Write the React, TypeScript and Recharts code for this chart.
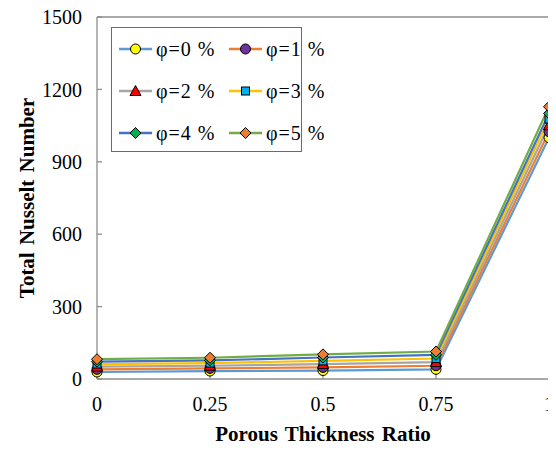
import { LineChart, Line, XAxis, YAxis, ReferenceLine } from 'recharts';

const ratios = [0, 0.25, 0.5, 0.75, 1];
const phi0 = [29, 33, 35, 40, 1000];
const phi1 = [40, 44, 48, 55, 1025];
const phi2 = [51, 55, 62, 70, 1052];
const phi3 = [62, 66, 75, 85, 1077];
const phi4 = [72, 77, 89, 100, 1100];
const phi5 = [82, 88, 102, 114, 1128];
const yTicks = [0, 300, 600, 900, 1200, 1500];
const xTicks = [0, 0.25, 0.5, 0.75, 1];

const FONT = '"Liberation Serif", "Times New Roman", serif';
const AXIS = '#8c8c8c';
const titleStyle = { fill: '#000', fontSize: 21, fontWeight: 'bold', fontFamily: FONT, wordSpacing: 2 };

type Shape = 'circle' | 'triangle' | 'square' | 'diamond';

const series: { key: string; label: string; values: number[]; line: string; fill: string; shape: Shape }[] = [
  { key: 'p0', label: 'φ=0 %', values: phi0, line: '#5B9BD5', fill: '#FFFF00', shape: 'circle' },
  { key: 'p1', label: 'φ=1 %', values: phi1, line: '#ED7D31', fill: '#7030A0', shape: 'circle' },
  { key: 'p2', label: 'φ=2 %', values: phi2, line: '#A5A5A5', fill: '#FF0000', shape: 'triangle' },
  { key: 'p3', label: 'φ=3 %', values: phi3, line: '#FFC000', fill: '#00B0F0', shape: 'square' },
  { key: 'p4', label: 'φ=4 %', values: phi4, line: '#4472C4', fill: '#00B050', shape: 'diamond' },
  { key: 'p5', label: 'φ=5 %', values: phi5, line: '#70AD47', fill: '#ED7D31', shape: 'diamond' },
];

const data = ratios.map((r, i) => {
  const row: Record<string, number> = { ratio: r };
  series.forEach((s) => {
    row[s.key] = s.values[i];
  });
  return row;
});

function Marker({ cx, cy, shape, fill }: { cx: number; cy: number; shape: Shape; fill: string }) {
  const common = { fill, stroke: '#000', strokeWidth: 1 };
  if (shape === 'circle') return <circle cx={cx} cy={cy} r={5} {...common} />;
  if (shape === 'square') return <rect x={cx - 4} y={cy - 4} width={8} height={8} {...common} />;
  if (shape === 'triangle')
    return <polygon points={`${cx},${cy - 5.5} ${cx + 5.5},${cy + 4.5} ${cx - 5.5},${cy + 4.5}`} {...common} />;
  return <polygon points={`${cx},${cy - 5.5} ${cx + 5.5},${cy} ${cx},${cy + 5.5} ${cx - 5.5},${cy}`} {...common} />;
}

// legend drawn as an overlay so the plot keeps its full height
function LegendBox() {
  return (
    <div
      style={{
        position: 'absolute',
        left: 111,
        top: 27,
        width: 191,
        height: 125,
        boxSizing: 'border-box',
        border: '1.3px solid #6b6b6b',
        background: '#fff',
        fontFamily: FONT,
        fontSize: 20,
      }}
    >
      {series.map((s, i) => {
        const col = i % 2;
        const row = Math.floor(i / 2);
        const left = col === 0 ? 7 : 117;
        const top = 21 + row * 42 - 10;
        return (
          <div key={s.key} style={{ position: 'absolute', left, top, height: 20, display: 'flex', alignItems: 'center' }}>
            <svg width={34} height={20}>
              <line x1={0} x2={33} y1={10} y2={10} stroke={s.line} strokeWidth={2.5} />
              <Marker cx={16.5} cy={10} shape={s.shape} fill={s.fill} />
            </svg>
            <span style={{ marginLeft: 3, whiteSpace: 'pre', lineHeight: '20px', letterSpacing: 1 }}>{s.label}</span>
          </div>
        );
      })}
    </div>
  );
}

export default function App() {
  // cancel the body margin so the svg covers the whole window
  return (
    <div style={{ position: 'relative', width: 556, height: 450, margin: -8 }}>
      <LineChart width={556} height={450} data={data} margin={{ top: 17, right: 7, left: 8, bottom: 0 }}>
        <XAxis
          dataKey="ratio"
          type="number"
          domain={[0, 1]}
          ticks={xTicks}
          height={71}
          stroke={AXIS}
          strokeWidth={1.3}
          tickSize={-5}
          tickMargin={23}
          interval={0}
          tick={{ fill: '#000', fontSize: 20, fontFamily: FONT }}
          label={{ value: 'Porous Thickness Ratio', position: 'insideBottom', offset: 9, style: titleStyle }}
        />
        <YAxis
          type="number"
          domain={[0, 1500]}
          ticks={yTicks}
          width={89}
          stroke={AXIS}
          strokeWidth={1.3}
          tickSize={-5}
          tickMargin={20}
          interval={0}
          tick={{ fill: '#000', fontSize: 20, fontFamily: FONT }}
          label={{
            content: ({ viewBox }: any) => {
              const cy = viewBox.y + viewBox.height / 2;
              return (
                <text
                  x={27}
                  y={cy}
                  transform={`rotate(-90 27 ${cy})`}
                  textAnchor="middle"
                  dominantBaseline="central"
                  style={titleStyle}
                >
                  Total Nusselt Number
                </text>
              );
            },
          }}
        />
        <ReferenceLine y={1500} stroke={AXIS} strokeWidth={1.3} />
        <ReferenceLine x={1} stroke={AXIS} strokeWidth={1.3} />
        {series.map((s) => (
          <Line
            key={s.key}
            dataKey={s.key}
            name={s.label}
            stroke={s.line}
            strokeWidth={2.2}
            isAnimationActive={false}
            dot={(p: any) => <Marker key={`${s.key}-${p.index}`} cx={p.cx} cy={p.cy} shape={s.shape} fill={s.fill} />}
            activeDot={false}
          />
        ))}
      </LineChart>
      <LegendBox />
    </div>
  );
}
